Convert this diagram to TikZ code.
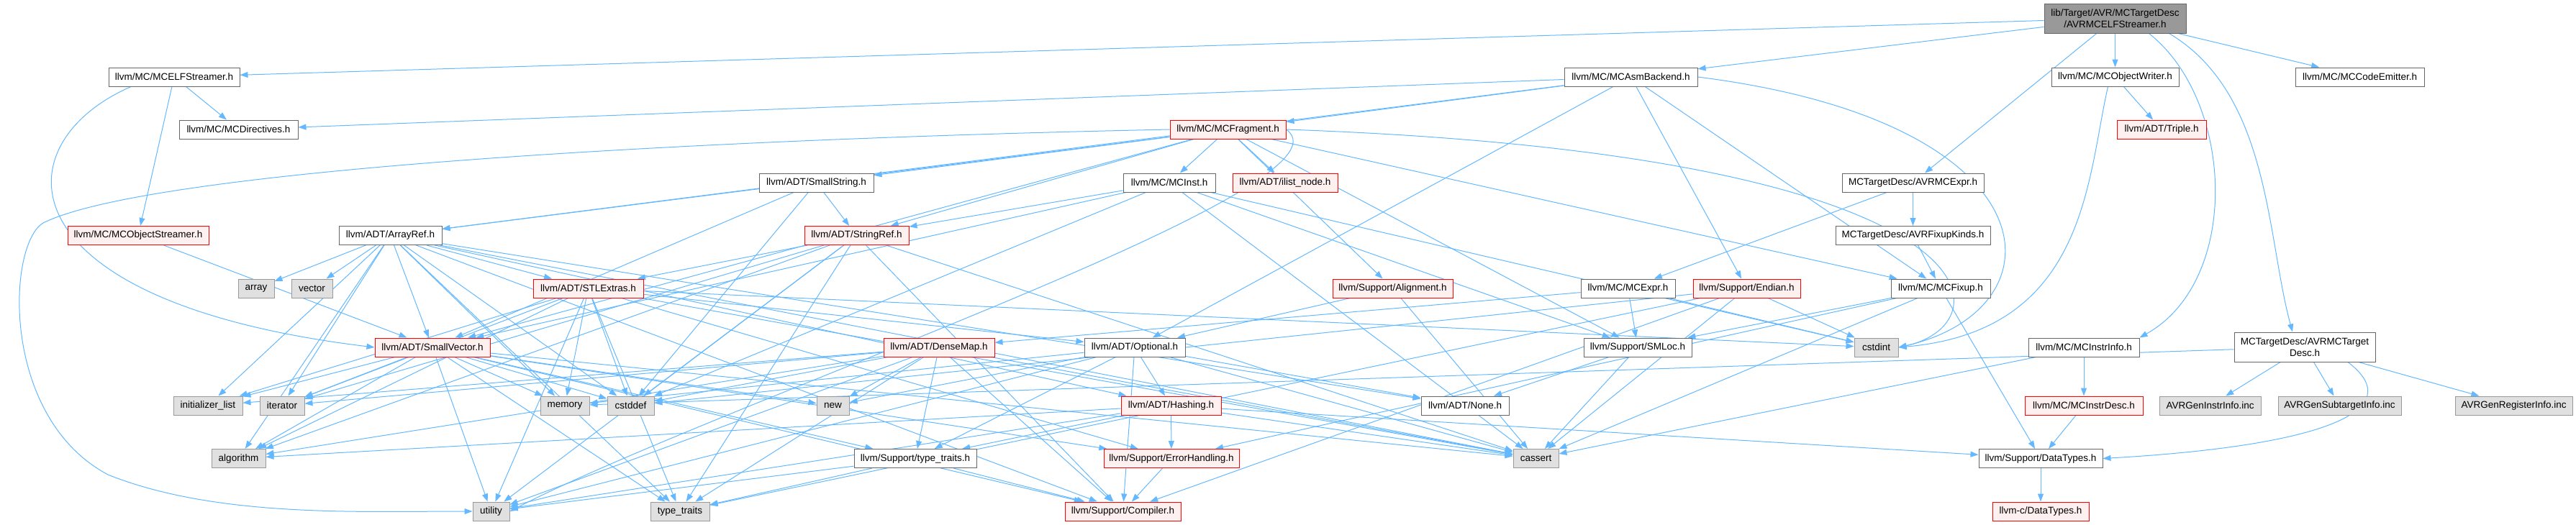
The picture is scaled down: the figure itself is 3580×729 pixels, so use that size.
\documentclass[tikz,border=0pt]{standalone}
\usepackage{fontspec}
\setmainfont{Liberation Sans}
\usetikzlibrary{arrows.meta,backgrounds}
\definecolor{edgec}{HTML}{63B8FF}
\definecolor{gline}{HTML}{666666}
\definecolor{gline2}{HTML}{999999}
\definecolor{redfill}{HTML}{FFF0F0}
\definecolor{grayfill}{HTML}{E0E0E0}
\definecolor{rootfill}{HTML}{999999}
\begin{document}
\begin{tikzpicture}[x=1pt,y=-1pt,
  nb/.style={draw=gline, fill=white, line width=1pt, minimum height=26pt, inner sep=0pt, align=center, font=\fontsize{13.5}{16}\selectfont},
  rb/.style={nb, draw=red, fill=redfill},
  gb/.style={nb, draw=gline2, fill=grayfill},
  rootb/.style={nb, draw=gline, fill=rootfill, minimum height=41pt},
  dep/.style={draw=edgec, line width=1pt, -{Triangle[length=11pt,width=8pt]}}]
\useasboundingbox (0,0) rectangle (3580,729);
% row 0
\node[rootb, minimum width=197pt] (root) at (2939.5,25.5) {lib/Target/AVR/MCTargetDesc\\/AVRMCELFStreamer.h};
% row 1
\node[nb, minimum width=182pt] (elf) at (242,107) {llvm/MC/MCELFStreamer.h};
\node[nb, minimum width=185pt] (asmb) at (2266.5,107) {llvm/MC/MCAsmBackend.h};
\node[nb, minimum width=177pt] (objw) at (2939.5,107) {llvm/MC/MCObjectWriter.h};
\node[nb, minimum width=179pt] (cemit) at (3279.5,107) {llvm/MC/MCCodeEmitter.h};
% row 2
\node[nb, minimum width=165pt] (dir) at (331.5,180) {llvm/MC/MCDirectives.h};
\node[rb, minimum width=161pt] (frag) at (1706.5,180) {llvm/MC/MCFragment.h};
\node[rb, minimum width=124pt] (triple) at (3004,180) {llvm/ADT/Triple.h};
% row 3
\node[nb, minimum width=159pt] (sstr) at (1134.5,254) {llvm/ADT/SmallString.h};
\node[nb, minimum width=128pt] (inst) at (1625,254) {llvm/MC/MCInst.h};
\node[rb, minimum width=146pt] (ilist) at (1786,254) {llvm/ADT/ilist\_node.h};
\node[nb, minimum width=197pt] (avrexpr) at (2658.5,254) {MCTargetDesc/AVRMCExpr.h};
% row 4
\node[rb, minimum width=196pt] (ostr) at (192,327.5) {llvm/MC/MCObjectStreamer.h};
\node[nb, minimum width=143pt] (aref) at (542.5,327.5) {llvm/ADT/ArrayRef.h};
\node[rb, minimum width=145pt] (sref) at (1190.5,327.5) {llvm/ADT/StringRef.h};
\node[nb, minimum width=215pt] (fixk) at (2658.5,327.5) {MCTargetDesc/AVRFixupKinds.h};
% row 5
\node[gb, minimum width=50pt] (array) at (356,401) {array};
\node[gb, minimum width=57pt] (vector) at (433.5,401) {vector};
\node[rb, minimum width=153pt] (stlx) at (817.5,401) {llvm/ADT/STLExtras.h};
\node[rb, minimum width=167pt] (align) at (1935.5,401) {llvm/Support/Alignment.h};
\node[nb, minimum width=131pt] (mcexpr) at (2262.5,401) {llvm/MC/MCExpr.h};
\node[rb, minimum width=149pt] (endian) at (2427.5,401) {llvm/Support/Endian.h};
\node[nb, minimum width=138pt] (fixup) at (2697,401) {llvm/MC/MCFixup.h};
% row 6
\node[rb, minimum width=160pt] (svec) at (601,483) {llvm/ADT/SmallVector.h};
\node[rb, minimum width=154pt] (dmap) at (1305,483) {llvm/ADT/DenseMap.h};
\node[nb, minimum width=140pt] (opt) at (1577,483) {llvm/ADT/Optional.h};
\node[nb, minimum width=150pt] (smloc) at (2276,483) {llvm/Support/SMLoc.h};
\node[gb, minimum width=61pt] (cstdint) at (2607.5,483) {cstdint};
\node[nb, minimum width=154pt] (instri) at (2896,483) {llvm/MC/MCInstrInfo.h};
\node[nb, minimum width=196pt, minimum height=41pt] (tdesc) at (3203,482.5) {MCTargetDesc/AVRMCTarget\\Desc.h};
% row 7
\node[gb, minimum width=96pt] (initl) at (289,564) {initializer\_list};
\node[gb, minimum width=62pt] (iter) at (392,564) {iterator};
\node[gb, minimum width=68pt] (mem) at (785,564) {memory};
\node[gb, minimum width=65pt] (cstddef) at (876.5,564) {cstddef};
\node[gb, minimum width=45pt] (newh) at (1157.5,564) {new};
\node[rb, minimum width=139pt] (hash) at (1627.5,564) {llvm/ADT/Hashing.h};
\node[nb, minimum width=122pt] (none) at (2036,564) {llvm/ADT/None.h};
\node[rb, minimum width=164pt] (instrd) at (2896,564) {llvm/MC/MCInstrDesc.h};
\node[gb, minimum width=141pt] (geninstr) at (3071.5,564) {AVRGenInstrInfo.inc};
\node[gb, minimum width=171pt] (gensub) at (3251.5,564) {AVRGenSubtargetInfo.inc};
\node[gb, minimum width=163pt] (genreg) at (3493.5,564) {AVRGenRegisterInfo.inc};
% row 8
\node[gb, minimum width=75pt] (algo) at (331.5,637.5) {algorithm};
\node[nb, minimum width=170pt] (sttraits) at (1272,637.5) {llvm/Support/type\_traits.h};
\node[rb, minimum width=188pt] (errh) at (1628,637.5) {llvm/Support/ErrorHandling.h};
\node[gb, minimum width=63pt] (cassert) at (2134.5,637.5) {cassert};
\node[nb, minimum width=172pt] (dtypes) at (2836,637.5) {llvm/Support/DataTypes.h};
% row 9
\node[gb, minimum width=51pt] (utility) at (682.5,711) {utility};
\node[gb, minimum width=82pt] (ttraits) at (945,711) {type\_traits};
\node[rb, minimum width=161pt] (compiler) at (1560.5,711) {llvm/Support/Compiler.h};
\node[rb, minimum width=134pt] (cdtypes) at (2836,711) {llvm-c/DataTypes.h};

\begin{scope}[on background layer]
\foreach \a/\b in {
 root/elf, root/asmb, root/objw, root/cemit, root/avrexpr,
 elf/dir, elf/ostr, ostr/svec,
 asmb/aref, asmb/dir, asmb/frag, asmb/opt, asmb/endian, asmb/fixup,
 objw/triple,
 frag/aref, frag/sstr, frag/svec, frag/sref, frag/ilist, frag/fixup, frag/inst, frag/align, frag/smloc,
 inst/sref, inst/svec, inst/smloc, inst/cassert, inst/cstddef, inst/cstdint,
 sstr/svec, sstr/sref, sstr/cstddef,
 sref/stlx, sref/compiler, sref/algo, sref/cassert, sref/cstddef, sref/ttraits, sref/utility, sref/iter,
 aref/hash, aref/none, aref/svec, aref/stlx, aref/compiler, aref/algo, aref/array, aref/cassert, aref/cstddef, aref/initl, aref/iter, aref/mem, aref/ttraits, aref/vector,
 stlx/opt, stlx/errh, stlx/algo, stlx/cassert, stlx/cstddef, stlx/cstdint, stlx/initl, stlx/iter, stlx/mem, stlx/ttraits, stlx/utility,
 svec/compiler, svec/errh, svec/sttraits, svec/algo, svec/cassert, svec/cstddef, svec/initl, svec/iter, svec/mem, svec/newh, svec/ttraits, svec/utility,
 opt/hash, opt/none, opt/compiler, opt/sttraits, opt/cassert, opt/mem, opt/newh, opt/utility,
 dmap/compiler, dmap/sttraits, dmap/algo, dmap/cassert, dmap/cstddef, dmap/initl, dmap/iter, dmap/newh, dmap/ttraits, dmap/utility,
 hash/errh, hash/sttraits, hash/algo, hash/cassert, hash/utility, hash/dtypes,
 errh/compiler, sttraits/ttraits, sttraits/utility, sttraits/compiler,
 smloc/none, smloc/cassert, align/opt, align/cassert,
 mcexpr/dmap, mcexpr/smloc, mcexpr/cstdint,
 endian/compiler, endian/cassert, endian/cstddef, endian/cstdint, endian/ttraits,
 fixup/smloc, fixup/errh, fixup/dtypes, fixup/cassert,
 avrexpr/mcexpr, avrexpr/fixk, fixk/fixup,
 instri/instrd, instri/cassert, instrd/dtypes,
 tdesc/geninstr, tdesc/gensub, tdesc/genreg, tdesc/mem,
 dtypes/cdtypes}
 \draw[dep] (\a) -- (\b);
% curved routes
\draw[dep] ([xshift=-60]elf.south) .. controls (0,200) and (0,420) .. (svec.west);
\draw[dep] (frag.west) .. controls (900,195) and (200,240) .. (60,310) .. controls (10,340) and (0,580) .. (150,660) .. controls (300,720) and (500,711) .. (utility.west);
\draw[dep] ([xshift=47]root.south) .. controls (3105,140) and (3115,390) .. (instri.north east);
\draw[dep] ([xshift=75]root.south) .. controls (3155,130) and (3150,330) .. ([xshift=-17]tdesc.north);
\draw[dep] (asmb.east) .. controls (2860,170) and (2870,430) .. (cstdint.east);
\draw[dep] (frag.east) .. controls (2790,215) and (2790,450) .. (cstdint.east);
\draw[dep] ([xshift=-10]objw.south) .. controls (2900,250) and (2900,460) .. (cstdint.east);
\draw[dep] (frag.east) .. controls (1900,260) and (1000,560) .. (utility.east);
\draw[dep] ([xshift=60]tdesc.south) .. controls (3350,570) and (3230,620) .. (dtypes.east);
\end{scope}
\end{tikzpicture}
\end{document}
